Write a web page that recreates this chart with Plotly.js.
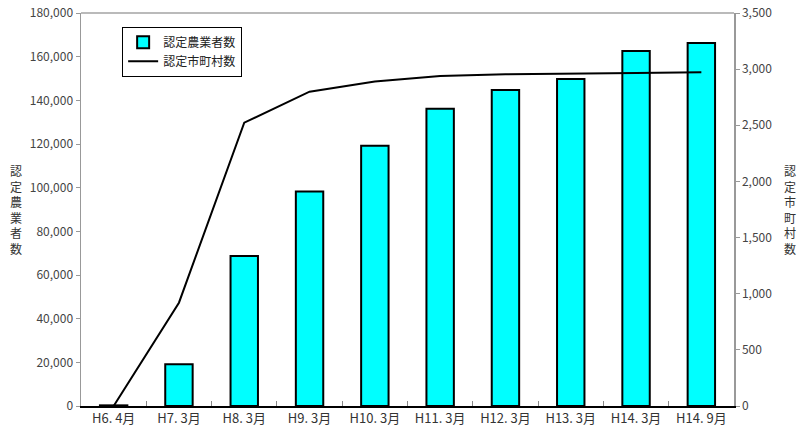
<!DOCTYPE html>
<html>
<head>
<meta charset="utf-8">
<script src="https://cdn.plot.ly/plotly-3.0.1.min.js"></script>
<style>
  html, body { margin: 0; padding: 0; background: #fff; }
  #chart { width: 800px; height: 439px; }
</style>
</head>
<body>
<div id="chart"></div>
<script>
/* ── 認定農業者数 / 認定市町村数 ── */

const periods      = ['H6. 4月', 'H7. 3月', 'H8. 3月', 'H9. 3月', 'H10. 3月',
                      'H11. 3月', 'H12. 3月', 'H13. 3月', 'H14. 3月', 'H14. 9月'];
const farmerCounts = [300, 19100, 68700, 98200, 119200, 136200, 144700, 149800, 162600, 166300];
const townCounts   = [0, 920, 2523, 2799, 2890, 2939, 2955, 2958, 2965, 2972];

const leftTicks  = [0, 20000, 40000, 60000, 80000, 100000, 120000, 140000, 160000, 180000];
const rightTicks = [0, 500, 1000, 1500, 2000, 2500, 3000, 3500];

const FONT = '"Noto Sans CJK JP", "Noto Sans", sans-serif';

const traces = [
  {
    type: 'bar',
    x: periods,
    y: farmerCounts,
    name: '認定農業者数',
    marker: { color: '#00ffff', line: { color: '#000', width: 2 } },
    width: 0.42,
    yaxis: 'y',
  },
  {
    type: 'scatter',
    mode: 'lines',
    x: periods,
    y: townCounts,
    name: '認定市町村数',
    line: { color: '#000', width: 2 },
    yaxis: 'y2',
  },
];

const vtext = s => s.split('').join('<br>');

const layout = {
  width: 800,
  height: 439,
  paper_bgcolor: '#fff',
  plot_bgcolor: '#fff',
  margin: { t: 13, b: 33, l: 81, r: 66 },
  font: { family: FONT, size: 12, color: '#333' },
  showlegend: true,
  xaxis: {
    type: 'category',
    tickvals: periods,
    ticktext: periods,
    showline: true,
    linecolor: '#000',
    linewidth: 1.5,
    ticks: 'inside',
    tickson: 'boundaries',
    ticklen: 5,
    tickcolor: '#888',
    tickfont: { size: 13, color: '#333' },
    showgrid: false,
    zeroline: false,
    fixedrange: true,
  },
  yaxis: {
    range: [0, 180000],
    tickvals: leftTicks,
    tickformat: ',d',
    showline: true,
    linecolor: '#999',
    linewidth: 1.5,
    ticks: 'outside',
    ticklen: 4,
    tickcolor: '#999',
    tickfont: { size: 12, color: '#444' },
    showgrid: false,
    zeroline: false,
  },
  yaxis2: {
    overlaying: 'y',
    side: 'right',
    range: [0, 3500],
    tickvals: rightTicks,
    tickformat: ',d',
    showline: true,
    linecolor: '#999',
    linewidth: 1.5,
    ticks: 'outside',
    ticklen: 4,
    tickcolor: '#999',
    tickfont: { size: 12, color: '#444' },
    showgrid: false,
    zeroline: false,
  },
  legend: {
    x: 0.063, xanchor: 'left',
    y: 0.965, yanchor: 'top',
    bgcolor: '#fff',
    bordercolor: '#000',
    borderwidth: 1,
    font: { size: 12, color: '#222', family: FONT },
    itemwidth: 30,
    tracegroupgap: 0,
  },
  shapes: [
    {
      type: 'line', xref: 'paper', yref: 'paper',
      x0: 0, x1: 1, y0: 1, y1: 1,
      line: { color: '#777', width: 1.2 },
    },
  ],
  annotations: [
    {
      text: vtext('認定農業者数'),
      xref: 'paper', yref: 'paper',
      x: -0.1, y: 0.5, xanchor: 'center', yanchor: 'middle',
      showarrow: false,
      font: { size: 12, color: '#333', family: FONT },
    },
    {
      text: vtext('認定市町村数'),
      xref: 'paper', yref: 'paper',
      x: 1.085, y: 0.5, xanchor: 'center', yanchor: 'middle',
      showarrow: false,
      font: { size: 12, color: '#333', family: FONT },
    },
  ],
};

Plotly.newPlot('chart', traces, layout, { displayModeBar: false, staticPlot: true });
</script>
</body>
</html>
